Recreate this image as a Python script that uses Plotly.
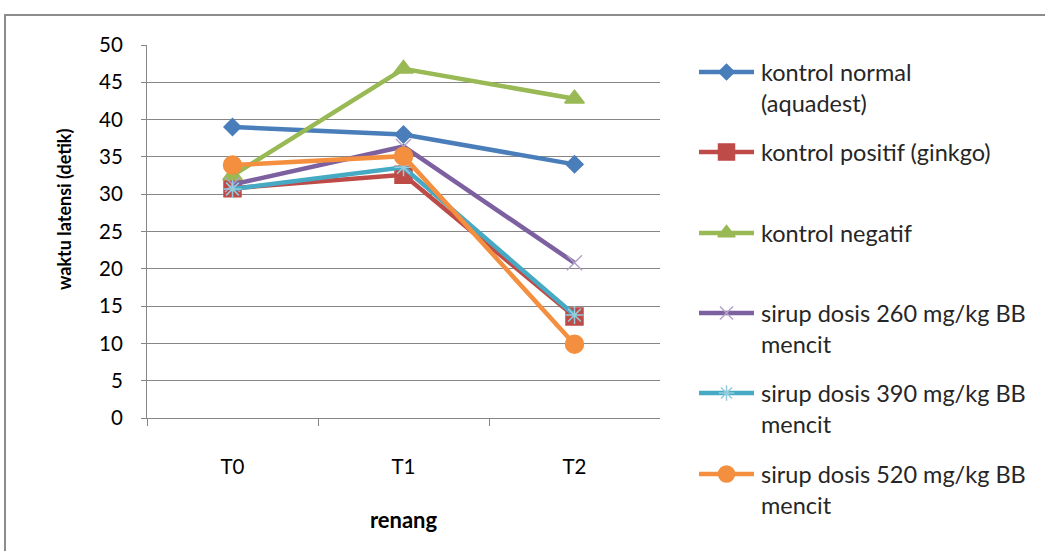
import plotly.graph_objects as go

categories = ["T0", "T1", "T2"]

# legend labels, split into their two printed lines
legend_line1 = [
    "kontrol normal",
    "kontrol positif (ginkgo)",
    "kontrol negatif",
    "sirup dosis 260 mg/kg BB",
    "sirup dosis 390 mg/kg BB",
    "sirup dosis 520 mg/kg BB",
]
legend_line2 = ["(aquadest)", "", "", "mencit", "mencit", "mencit"]

kontrol_normal = [39.0, 38.0, 34.0]
kontrol_positif = [30.8, 32.6, 13.6]
kontrol_negatif = [32.5, 46.8, 42.8]
sirup_260 = [31.3, 36.4, 20.8]
sirup_390 = [30.7, 33.6, 13.8]
sirup_520 = [33.9, 35.1, 9.9]

series_values = [kontrol_normal, kontrol_positif, kontrol_negatif,
                 sirup_260, sirup_390, sirup_520]
line_colors = ["#4A7EBB", "#BE4B48", "#98B954", "#7D60A0", "#46AAC5", "#F38F3E"]
marker_colors = ["#4A7EBB", "#BE4B48", "#98B954", "#B3A2C7", "#93CDDD", "#F38F3E"]
marker_symbols = ["diamond", "square", "triangle-up", "x-thin-open",
                  "asterisk-open", "circle"]
marker_sizes = [13, 17, 17, 15, 15, 18]
legend_marker_sizes = [12, 16, 15, 13, 13, 16]

W, H = 1045, 551
# plot area in pixels
PL, PR, PT, PB = 147, 660, 45, 418

font_family = "Lato, 'Open Sans', sans-serif"

fig = go.Figure()
for i, vals in enumerate(series_values):
    fig.add_trace(go.Scatter(
        x=categories, y=vals, name=legend_line1[i], mode="lines+markers",
        showlegend=False,
        line=dict(color=line_colors[i], width=4.5),
        marker=dict(symbol=marker_symbols[i], size=marker_sizes[i],
                    color=marker_colors[i],
                    line=dict(color=marker_colors[i], width=1.5)),
    ))

# legend block drawn on a pixel-space overlay axis
leg_x0, leg_x1, leg_text_x = 699, 754, 759
leg_rows = [72, 152, 233, 313, 393, 474]
leg_line_gap = 31
annotations = []
for i in range(len(legend_line1)):
    ry = leg_rows[i]
    fig.add_trace(go.Scatter(
        x=[leg_x0, leg_x1], y=[ry, ry], xaxis="x2", yaxis="y2",
        mode="lines", showlegend=False, hoverinfo="skip",
        line=dict(color=line_colors[i], width=4.5),
    ))
    fig.add_trace(go.Scatter(
        x=[(leg_x0 + leg_x1) / 2], y=[ry], xaxis="x2", yaxis="y2",
        mode="markers", showlegend=False, hoverinfo="skip",
        marker=dict(symbol=marker_symbols[i], size=legend_marker_sizes[i],
                    color=marker_colors[i],
                    line=dict(color=marker_colors[i], width=1.5)),
    ))
    for k, txt in enumerate([legend_line1[i], legend_line2[i]]):
        if not txt:
            continue
        annotations.append(dict(
            x=leg_text_x, y=ry + k * leg_line_gap, xref="x2", yref="y2",
            text=txt, showarrow=False, xanchor="left", yanchor="middle",
            font=dict(size=23.5, color="#262626", family=font_family),
        ))

# vertical axis title
annotations.append(dict(
    x=64, y=210, xref="x2", yref="y2", textangle=-90,
    text="<b>waktu latensi (detik)</b>", showarrow=False,
    xanchor="center", yanchor="middle",
    font=dict(size=18, color="#000000", family=font_family),
))

fig.update_layout(
    width=W, height=H,
    margin=dict(l=0, r=0, t=0, b=0, autoexpand=False),
    paper_bgcolor="white", plot_bgcolor="rgba(0,0,0,0)",
    font=dict(family=font_family, size=20, color="#000000"),
    showlegend=False,
    xaxis=dict(
        type="category", range=[-0.5, 2.5],
        domain=[PL / W, PR / W],
        showline=True, linecolor="#868686", linewidth=1,
        ticks="outside", tickson="boundaries", ticklen=7, tickcolor="#868686",
        showgrid=False, ticklabelstandoff=30,
        tickfont=dict(size=20.5),
        title=dict(text="<b>renang</b>", font=dict(size=22), standoff=36),
    ),
    yaxis=dict(
        range=[0, 50], dtick=5, tick0=0,
        domain=[1 - PB / H, 1 - PT / H],
        showline=True, linecolor="#868686", linewidth=1,
        ticks="outside", ticklen=5, tickcolor="#868686",
        showgrid=True, gridcolor="#868686", gridwidth=1,
        zeroline=False, ticklabelstandoff=14,
        tickfont=dict(size=20.5),
    ),
    xaxis2=dict(domain=[0, 1], range=[0, W], visible=False, fixedrange=True),
    yaxis2=dict(domain=[0, 1], range=[H, 0], visible=False, fixedrange=True,
                anchor="x2"),
    annotations=annotations,
    shapes=[dict(type="rect", xref="paper", yref="paper",
                 x0=5 / W, x1=1.02, y0=-0.02, y1=1 - 15 / H,
                 line=dict(color="#8C8C8C", width=2), layer="below")],
)

fig.write_html("out.html")
